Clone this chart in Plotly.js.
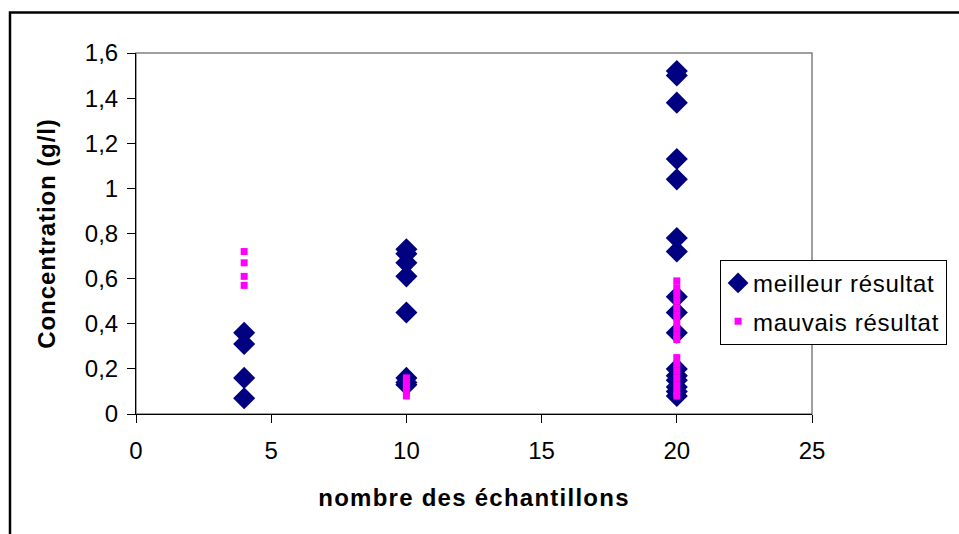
<!DOCTYPE html>
<html>
<head>
<meta charset="utf-8">
<script src="https://cdn.plot.ly/plotly-3.0.1.min.js"></script>
<style>
html, body { margin: 0; padding: 0; background: #fff; }
#chart { width: 959px; height: 534px; }
.xtitle { letter-spacing: 1.25px; }
.ytitle { letter-spacing: 0.9px; }
.legendtext { letter-spacing: 0.7px; }
</style>
</head>
<body>
<div id="chart"></div>
<script>
// meilleur résultat (diamonds)
const bestX = [4, 4, 4, 4,
  10, 10, 10, 10, 10, 10, 10, 10,
  20, 20, 20, 20, 20, 20, 20, 20, 20, 20, 20, 20, 20, 20, 20, 20];
const bestY = [0.36, 0.31, 0.16, 0.07,
  0.73, 0.71, 0.67, 0.61, 0.45, 0.16, 0.14, 0.13,
  1.52, 1.50, 1.38, 1.13, 1.04, 0.78, 0.72, 0.52, 0.45, 0.36, 0.20, 0.17, 0.15, 0.12, 0.10, 0.08];

// mauvais résultat (squares)
const badX = [4, 4, 4, 4,
  10, 10, 10, 10, 10,
  20, 20, 20, 20, 20, 20, 20, 20, 20, 20, 20, 20, 20, 20, 20, 20, 20];
const badY = [0.72, 0.67, 0.61, 0.57,
  0.16, 0.14, 0.12, 0.10, 0.08,
  0.59, 0.56, 0.53, 0.50, 0.47, 0.44, 0.41, 0.38, 0.35, 0.33, 0.25, 0.22, 0.19, 0.16, 0.13, 0.10, 0.08];

const xTicks = [0, 5, 10, 15, 20, 25];
const yTickVals = [0, 0.2, 0.4, 0.6, 0.8, 1, 1.2, 1.4, 1.6];
const yTickText = ['0', '0,2', '0,4', '0,6', '0,8', '1', '1,2', '1,4', '1,6'];

const FONT = 'Arial, "Liberation Sans", sans-serif';

const traces = [
  {
    x: bestX, y: bestY, type: 'scatter', mode: 'markers',
    name: 'meilleur résultat', legendgroup: 'a',
    marker: { symbol: 'diamond', size: 17, color: '#000080' }
  },
  {
    x: badX, y: badY, type: 'scatter', mode: 'markers',
    name: 'mauvais résultat', legendgroup: 'b',
    marker: { symbol: 'square', size: 7, color: '#FF00FF' }
  }
];

const layout = {
  width: 959, height: 534,
  margin: { l: 136, r: 147, t: 53, b: 120, autoexpand: false },
  paper_bgcolor: '#ffffff', plot_bgcolor: '#ffffff',
  font: { family: FONT, color: '#000', size: 24 },
  showlegend: true,
  legend: {
    x: 0.864, y: 0.427, xanchor: 'left', yanchor: 'top',
    bgcolor: '#ffffff', bordercolor: '#000', borderwidth: 1,
    font: { family: FONT, size: 24, color: '#000' },
    tracegroupgap: 4, itemsizing: 'trace'
  },
  xaxis: {
    range: [0, 25], tickvals: xTicks, ticktext: xTicks.map(String),
    showgrid: false, zeroline: false,
    showline: true, linecolor: '#000', linewidth: 1,
    ticks: 'outside', ticklen: 8, tickcolor: '#000',
    ticklabelstandoff: 7,
    tickfont: { family: FONT, size: 24 },
    title: { text: 'nombre des échantillons', font: { family: FONT, size: 24, weight: 'bold' }, standoff: 26 }
  },
  yaxis: {
    range: [0, 1.6], tickvals: yTickVals, ticktext: yTickText,
    showgrid: false, zeroline: false,
    showline: true, linecolor: '#000', linewidth: 1,
    ticks: 'outside', ticklen: 8, tickcolor: '#000',
    ticklabelstandoff: 4,
    tickfont: { family: FONT, size: 24 },
    title: { text: 'Concentration (g/l)', font: { family: FONT, size: 24, weight: 'bold' }, standoff: 22 }
  },
  shapes: [
    { type: 'rect', xref: 'paper', yref: 'paper', x0: 0, x1: 1, y0: 0, y1: 1,
      line: { color: '#808080', width: 1.5 }, layer: 'below' },
    { type: 'rect', xref: 'paper', yref: 'paper', x0: -0.1864, x1: 1.5, y0: -1, y1: 1.1122,
      line: { color: '#000', width: 2.5 }, layer: 'above' }
  ]
};

Plotly.newPlot('chart', traces, layout, { displayModeBar: false, staticPlot: true }).then(function () {
  // nudge legend labels and symbols, as in the reference
  const shift = 8;
  document.querySelectorAll('.legendtext').forEach(function (t) {
    t.setAttribute('x', parseFloat(t.getAttribute('x')) - shift);
  });
  document.querySelectorAll('.legend rect.bg').forEach(function (r) {
    r.setAttribute('width', parseFloat(r.getAttribute('width')) - shift + 2);
  });
  document.querySelectorAll('.legendpoints').forEach(function (g) {
    g.setAttribute('transform', 'translate(-3,0)');
  });
});
</script>
</body>
</html>
